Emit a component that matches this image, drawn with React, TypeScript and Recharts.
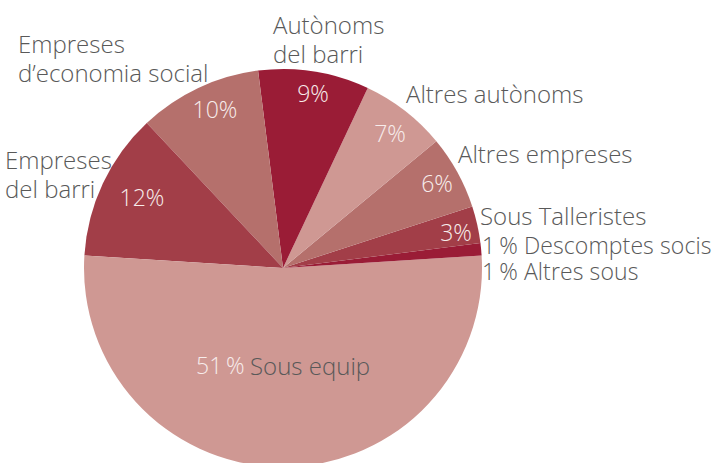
import { PieChart, Pie, Cell } from "recharts"

// slices run counter-clockwise from 3 o'clock
const categories = [
  "Altres sous",
  "Descomptes socis",
  "Sous Talleristes",
  "Altres empreses",
  "Altres autònoms",
  "Autònoms del barri",
  "Empreses d’economia social",
  "Empreses del barri",
  "Sous equip",
]
const shares = [1, 1, 3, 6, 7, 9, 10, 12, 51]
const sliceColors = [
  "#cf9893",
  "#9a1c36",
  "#a23e48",
  "#b5706c",
  "#cf9893",
  "#9a1c36",
  "#b5706c",
  "#a23e48",
  "#cf9893",
]
// text shown inside and outside each slice
const innerText = ["", "", "3%", "6%", "7%", "9%", "10%", "12%", "51\u2009%"]
const outerText = [
  ["1\u2009% Altres sous"],
  ["1\u2009% Descomptes socis"],
  ["Sous Talleristes"],
  ["Altres empreses"],
  ["Altres autònoms"],
  ["Autònoms", "del barri"],
  ["Empreses", "d’economia social"],
  ["Empreses", "del barri"],
  ["Sous equip"],
]

const data = categories.map((name, i) => ({ name, value: shares[i] }))

// label placement, relative to the pie centre
const innerSpot = [
  null,
  null,
  [173, -36],
  [154, -85],
  [107, -135],
  [30, -175],
  [-68, -159],
  [-141, -71],
  [-87, 97],
]
const outerSpot = [
  [199, 12],
  [199, -14],
  [197, -43],
  [175, -105],
  [123, -165],
  [-10, -234],
  [-265, -215],
  [-278, -99],
  [-33, 97],
]

const FONT = "'Open Sans', 'Noto Sans', sans-serif"

const renderLabel = (props: any) => {
  const { cx, cy, index } = props
  const inner = innerSpot[index]
  const outer = outerSpot[index]
  const isMain = index === 8
  const tight = index < 2
  return (
    <g key={`lbl-${index}`}>
      {inner && innerText[index] && (
        <text
          x={cx + inner[0]}
          y={cy + inner[1]}
          textAnchor={isMain ? "start" : "middle"}
          dominantBaseline="central"
          fill="#f7eceb"
          fontSize={23}
          fontWeight={300}
          fontFamily={FONT}
        >
          {innerText[index]}
        </text>
      )}
      <text
        x={cx + outer[0]}
        y={cy + outer[1]}
        textAnchor="start"
        dominantBaseline={isMain ? "central" : "alphabetic"}
        fill="#595959"
        fontSize={tight ? 23 : 24}
        letterSpacing={tight ? 0.1 : 0}
        fontWeight={300}
        fontFamily={FONT}
      >
        {outerText[index].map((line, j) => (
          <tspan key={j} x={cx + outer[0]} dy={j === 0 ? 0 : 29}>
            {line}
          </tspan>
        ))}
      </text>
    </g>
  )
}

const App = () => {
  return (
    <div style={{ position: "absolute", left: 0, top: 0 }}>
      <PieChart
        width={714}
        height={463}
        margin={{ top: 0, right: 0, bottom: 0, left: 0 }}
      >
        <Pie
          data={data}
          dataKey="value"
          nameKey="name"
          cx={283}
          cy={268}
          outerRadius={199}
          startAngle={0}
          endAngle={360}
          stroke="none"
          label={renderLabel}
          labelLine={false}
          isAnimationActive={false}
        >
          {data.map((d, i) => (
            <Cell key={d.name} fill={sliceColors[i]} />
          ))}
        </Pie>
      </PieChart>
    </div>
  )
}

export default App
